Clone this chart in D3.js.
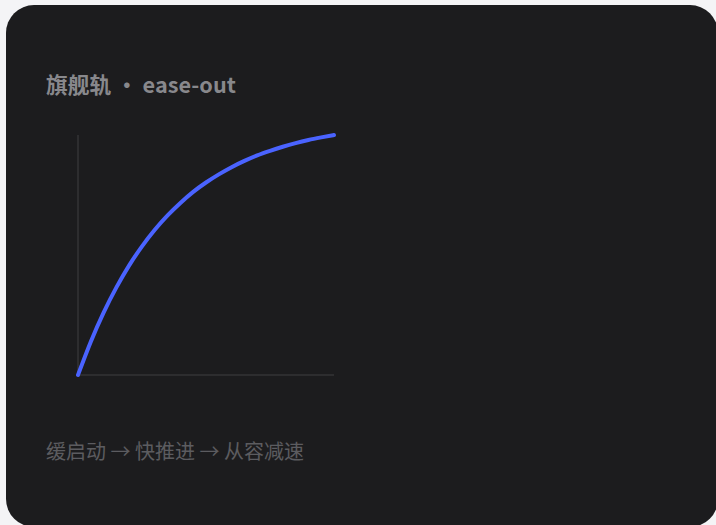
<!DOCTYPE html>
<html><head><meta charset="utf-8">
<script src="https://cdn.jsdelivr.net/npm/d3@7"></script>
<style>
html,body{margin:0;padding:0;background:#f4f4f6;}
svg{display:block;}
</style></head>
<body>
<svg id="c" width="716" height="525"></svg>
<script>
const title = "旗舰轨 · ease-out";
const caption = "缓启动 → 快推进 → 从容减速";
const progressX = [0,0.05,0.10,0.15,0.20,0.25,0.30,0.35,0.40,0.45,0.50,0.55,0.60,0.65,0.70,0.75,0.80,0.85,0.90,0.95,1.00];
const progressY = [0,0.139,0.260,0.365,0.457,0.536,0.605,0.665,0.717,0.763,0.802,0.836,0.866,0.892,0.915,0.934,0.951,0.966,0.979,0.990,1.000];

const svg = d3.select("#c");
svg.append("rect").attr("x",6).attr("y",5).attr("width",712).attr("height",522)
  .attr("rx",28).attr("fill","#1c1c1e");

svg.append("text").attr("x",46).attr("y",93)
  .attr("font-family","'Noto Sans CJK SC','Noto Sans',sans-serif")
  .attr("font-size",21.7).attr("font-weight",600).attr("fill","#88888c")
  .text(title);

const x = d3.scaleLinear().domain([0,1]).range([78,334]);
const y = d3.scaleLinear().domain([0,1]).range([375,135]);

svg.append("line").attr("x1",x(0)).attr("x2",x(0)).attr("y1",y(1)).attr("y2",y(0))
  .attr("stroke","#333336").attr("stroke-width",1.5);
svg.append("line").attr("x1",x(0)).attr("x2",x(1)).attr("y1",y(0)).attr("y2",y(0))
  .attr("stroke","#333336").attr("stroke-width",1.5);

const pts = progressX.map((v,i)=>[v,progressY[i]]);
svg.append("path").datum(pts)
  .attr("d", d3.line().x(d=>x(d[0])).y(d=>y(d[1])).curve(d3.curveMonotoneX))
  .attr("fill","none").attr("stroke","#4a63ff").attr("stroke-width",4)
  .attr("stroke-linecap","round").attr("stroke-linejoin","round");

svg.append("text").attr("x",46).attr("y",459)
  .attr("font-family","'Noto Sans CJK SC','Noto Sans',sans-serif")
  .attr("font-size",20).attr("fill","#5c5c60")
  .text(caption);
</script>
</body></html>
